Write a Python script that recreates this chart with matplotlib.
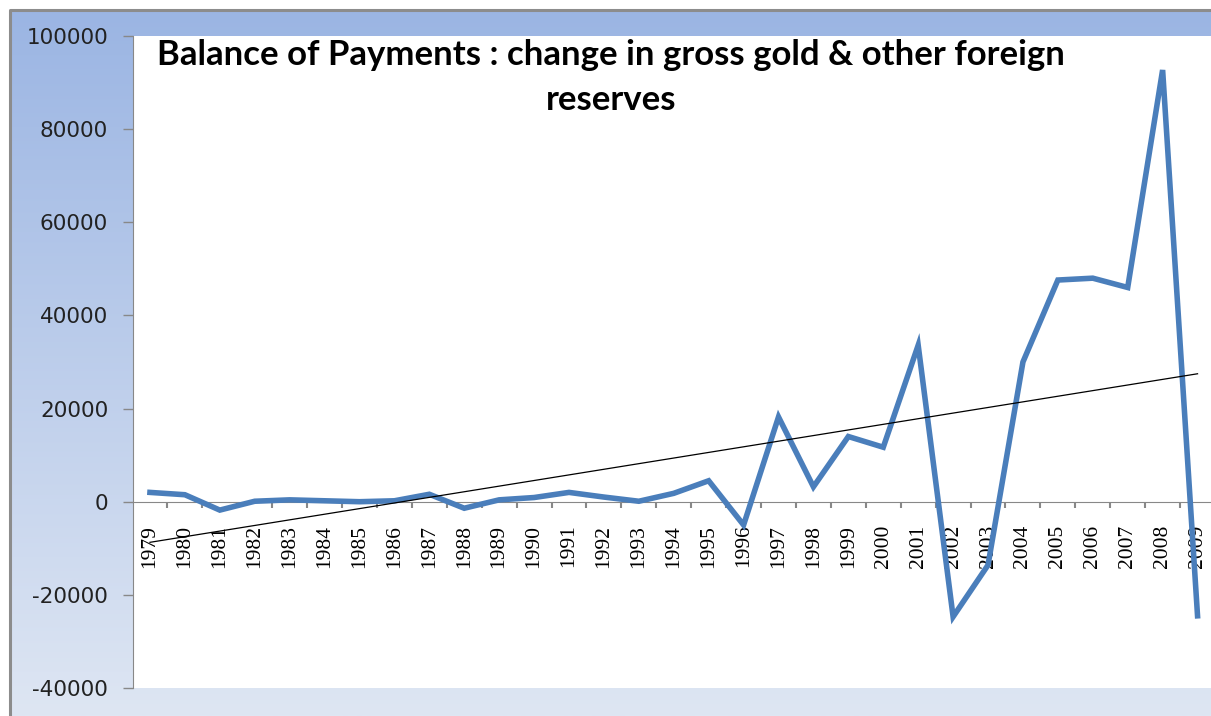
import numpy as np
import matplotlib.pyplot as plt
from matplotlib.colors import LinearSegmentedColormap

# Datos (cambio en reservas)
years = [str(y) for y in range(1979, 2010)]
values = [2000, 1500, -1800, 100, 400, 200, 0, 200, 1600, -1400,
          400, 900, 2000, 1000, 100, 1800, 4500, -5000, 18200, 3200,
          14000, 11700, 33600, -24700, -13600, 30000, 47600, 48000, 46000,
          92700, -24500]
y_ticks = [-40000, -20000, 0, 20000, 40000, 60000, 80000, 100000]

W, H = 1211, 716
fig = plt.figure(figsize=(W / 100, H / 100), dpi=100)
fig.patch.set_facecolor('white')

# Fondo con degradado azul y borde gris
bg = fig.add_axes([0, 0, 1, 1], zorder=-10)
bg.set_xlim(0, W)
bg.set_ylim(H, 0)
bg.axis('off')
cmap = LinearSegmentedColormap.from_list('fondo', ['#9bb5e3', '#dee6f3'])
grad = np.linspace(0, 1, 256).reshape(-1, 1)
bg.imshow(grad, cmap=cmap, aspect='auto', extent=(11, W, H, 11), zorder=0)
bg.plot([10, 10, W], [H, 10, 10], color='#8c8c8c', lw=2.2, zorder=1)

# Area del grafico
left, right, top, bottom = 132.5, 1215.0, 36.0, 688.0
ax = fig.add_axes([left / W, (H - bottom) / H, (right - left) / W, (bottom - top) / H])
ax.set_facecolor('white')

# Ejes: el eje x pasa por cero (antes de configurar las etiquetas)
for s in ['top', 'right']:
    ax.spines[s].set_visible(False)
ax.spines['left'].set_color('#888888')
ax.spines['bottom'].set_color('#888888')
ax.spines['bottom'].set_position(('data', 0))

x = np.arange(len(years))
ax.plot(x, values, color='#4a7ebb', lw=4.0, solid_joinstyle='miter', zorder=3)

# Linea de tendencia lineal
coef = np.polyfit(x, values, 1)
ax.plot(x, np.polyval(coef, x), color='black', lw=0.9, zorder=4)

ax.set_xlim(-0.5, len(years) - 0.5)
ax.set_ylim(-40000, 100000)
ax.tick_params(axis='y', length=7, width=1, color='#888888', pad=10.5)
ax.tick_params(axis='x', which='major', length=0, pad=16.5)
ax.tick_params(axis='x', which='minor', length=4.5, width=1.5, color='#888888',
               direction='out')

ax.set_yticks(y_ticks)
ax.set_yticklabels([str(v) for v in y_ticks], fontsize=15.5, color='#222222',
                   family='DejaVu Sans')
ax.set_xticks(x)
ax.set_xticks(x[:-1] + 0.5, minor=True)
ax.set_xticklabels(years, fontsize=15.5, family='Liberation Serif',
                   rotation=90, va='top', ha='center')

# Titulo
tx = 611 / W
fig.text(tx, 1 - 65 / H, 'Balance of Payments : change in gross gold & other foreign',
         ha='center', va='baseline', fontsize=25, fontweight='bold', family='Lato')
fig.text(tx, 1 - 110 / H, 'reserves',
         ha='center', va='baseline', fontsize=25, fontweight='bold', family='Lato')

fig.savefig('out.png', dpi=100)
